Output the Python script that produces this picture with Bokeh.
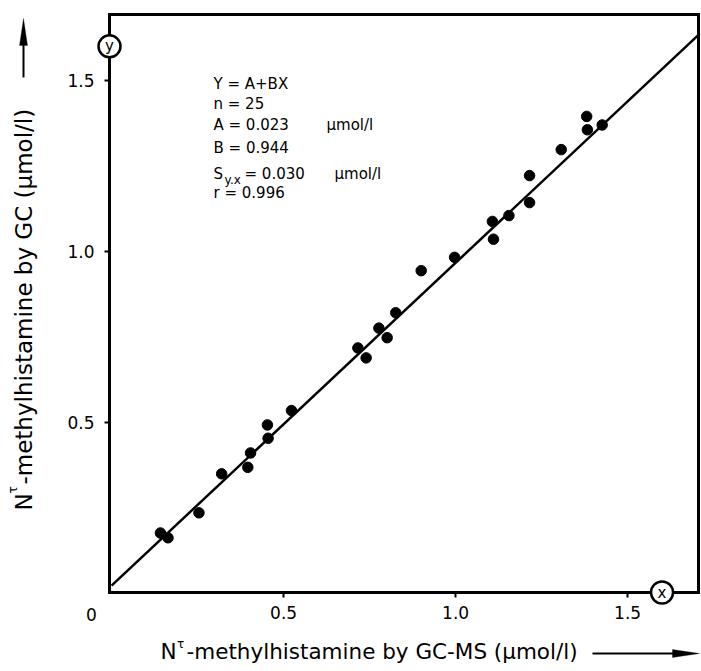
import numpy as np
from bokeh.plotting import figure
from bokeh.models import (Label, Arrow, PolyAnnotation, FixedTicker, Range1d,
                          LinearAxis)
from bokeh.embed import file_html
from bokeh.resources import INLINE

# ---- data ----
gc_ms = [1.381, 1.383, 1.426, 1.307, 1.215, 1.215, 1.155, 1.107, 1.110,
         0.997, 0.900, 0.826, 0.777, 0.801, 0.716, 0.740,
         0.523, 0.453, 0.455, 0.404, 0.396, 0.320,
         0.142, 0.164, 0.254]
gc = [1.395, 1.356, 1.370, 1.298, 1.222, 1.143, 1.105, 1.088, 1.036,
      0.983, 0.944, 0.821, 0.776, 0.748, 0.718, 0.689,
      0.535, 0.493, 0.454, 0.411, 0.369, 0.350,
      0.177, 0.163, 0.236]
intercept_A = 0.023
slope_B = 0.944
x_ticks = [0.5, 1.0, 1.5]
x_tick_labels = ["0.5", "1.0", "1.5"]
y_ticks = [0.5, 1.0, 1.5]
y_tick_labels = ["0.5", "1.0", "1.5"]
axis_marker_at = 1.6
stats_lines = ["Y = A+BX", "n = 25", "A = 0.023", "B = 0.944", "= 0.030", "r = 0.996"]
unit_text = "µmol/l"

# ---- geometry ----
W, H = 700, 670
XB = (-0.006, 1.706)          # data values at the box edges
YB = (0.003, 1.693)
BOX = dict(left=109, right=698, top=14, bottom=592)   # box edges in canvas px
kx = (BOX["right"] - BOX["left"]) / (XB[1] - XB[0])
ky = (BOX["bottom"] - BOX["top"]) / (YB[1] - YB[0])
x_range = (XB[0] - BOX["left"] / kx, XB[1] + (W - BOX["right"]) / kx)
y_range = (YB[0] - (H - BOX["bottom"]) / ky, YB[1] + BOX["top"] / ky)

FONT = "DejaVu Sans"

p = figure(width=W, height=H,
           x_range=Range1d(*x_range), y_range=Range1d(*y_range),
           output_backend="svg", toolbar_location=None, min_border=0)
p.title.visible = False
p.xgrid.visible = False
p.ygrid.visible = False
p.outline_line_color = None
p.background_fill_color = "white"
p.border_fill_color = "white"

def style_axis(ax):
    ax.axis_line_width = 3
    ax.axis_line_color = "black"
    ax.axis_line_cap = "square"
    ax.major_tick_out = 5
    ax.major_tick_in = 0
    ax.major_tick_line_width = 2
    ax.major_tick_line_color = "black"
    ax.minor_tick_line_color = None
    ax.major_label_text_font = FONT
    ax.major_label_text_font_size = "17px"
    ax.major_label_text_color = "black"

xa = p.xaxis[0]
ya = p.yaxis[0]
for ax in (xa, ya):
    style_axis(ax)
xa.fixed_location = YB[0]
xa.bounds = XB
xa.ticker = FixedTicker(ticks=x_ticks)
xa.major_label_overrides = dict(zip(x_ticks, x_tick_labels))
xa.major_label_standoff = 8
ya.fixed_location = XB[0]
ya.bounds = YB
ya.ticker = FixedTicker(ticks=y_ticks)
ya.major_label_overrides = dict(zip(y_ticks, y_tick_labels))
ya.major_label_standoff = 10

# top and right edges of the box
top_ax = LinearAxis(fixed_location=YB[1], bounds=XB, ticker=FixedTicker(ticks=[]))
right_ax = LinearAxis(fixed_location=XB[1], bounds=YB, ticker=FixedTicker(ticks=[]))
for ax in (top_ax, right_ax):
    style_axis(ax)
    ax.major_tick_line_color = None
    ax.major_label_text_font_size = "0px"
p.add_layout(top_ax, "above")
p.add_layout(right_ax, "right")

# regression line Y = A + BX across the box, and the points
line_x = np.array([0.0, XB[1]])
p.line(line_x, intercept_A + slope_B * line_x, line_color="black", line_width=2.5)
p.scatter(gc_ms, gc, size=10.5, color="black")

# circled axis markers (drawn above the axis lines)
p.scatter([XB[0], axis_marker_at], [axis_marker_at, YB[0]], size=22,
          marker="circle", fill_color="white", line_color="black", line_width=2.5,
          level="annotation")

def rx(px):
    return XB[0] + (px - BOX["left"]) / kx
def ry(py):
    return YB[0] + (BOX["bottom"] - py) / ky

def lab(text, x, y, size="15px", align="left", baseline="middle", angle=0, **kw):
    l = Label(x=x, y=y, text=text, text_font=FONT, text_font_size=size,
              text_align=align, text_baseline=baseline, text_color="black",
              angle=angle, angle_units="deg", **kw)
    p.add_layout(l)
    return l

lab("y", XB[0], axis_marker_at, size="15px", align="center")
lab("x", axis_marker_at, YB[0], size="15px", align="center")

# statistics block
ys = [83, 103, 124, 147, 173, 192]
lab(stats_lines[0], rx(213), ry(ys[0]))
lab(stats_lines[1], rx(213), ry(ys[1]))
lab(stats_lines[2], rx(213), ry(ys[2]))
lab(unit_text, rx(326), ry(ys[2]))
lab(stats_lines[3], rx(213), ry(ys[3]))
lab("S", rx(213), ry(ys[4]))
lab("y.x", rx(224), ry(ys[4] + 6), size="12px")
lab(stats_lines[4], rx(244), ry(ys[4]))
lab(unit_text, rx(334), ry(ys[4]))
lab(stats_lines[5], rx(213), ry(ys[5]))

# origin label
lab("0", rx(91), ry(614), size="17px", align="center")

# x-axis title
lab("N", rx(160), ry(651), size="21.5px")
lab("τ", rx(176.5), ry(643), size="12px")
lab("-methylhistamine by GC-MS (µmol/l)", rx(186), ry(651), size="21.5px")
p.add_layout(Arrow(x_start=rx(592), y_start=ry(653), x_end=rx(678), y_end=ry(653),
                   end=None, line_width=2, line_color="black"))
p.add_layout(PolyAnnotation(xs=[rx(672), rx(699), rx(672)],
                            ys=[ry(649), ry(653), ry(657)],
                            fill_color="black", fill_alpha=1, line_color="black"))

# y-axis title (rotated)
lab("N", rx(23.5), ry(510), size="23px", angle=90)
lab("τ", rx(12), ry(493), size="12px", angle=90)
lab("-methylhistamine by GC (µmol/l)", rx(23.5), ry(484), size="23px", angle=90)
p.add_layout(Arrow(x_start=rx(23), y_start=ry(77), x_end=rx(23), y_end=ry(40),
                   end=None, line_width=2, line_color="black"))
p.add_layout(PolyAnnotation(xs=[rx(19), rx(23), rx(27)],
                            ys=[ry(45), ry(18), ry(45)],
                            fill_color="black", fill_alpha=1, line_color="black"))

open("out.html", "w").write(file_html(p, INLINE))
